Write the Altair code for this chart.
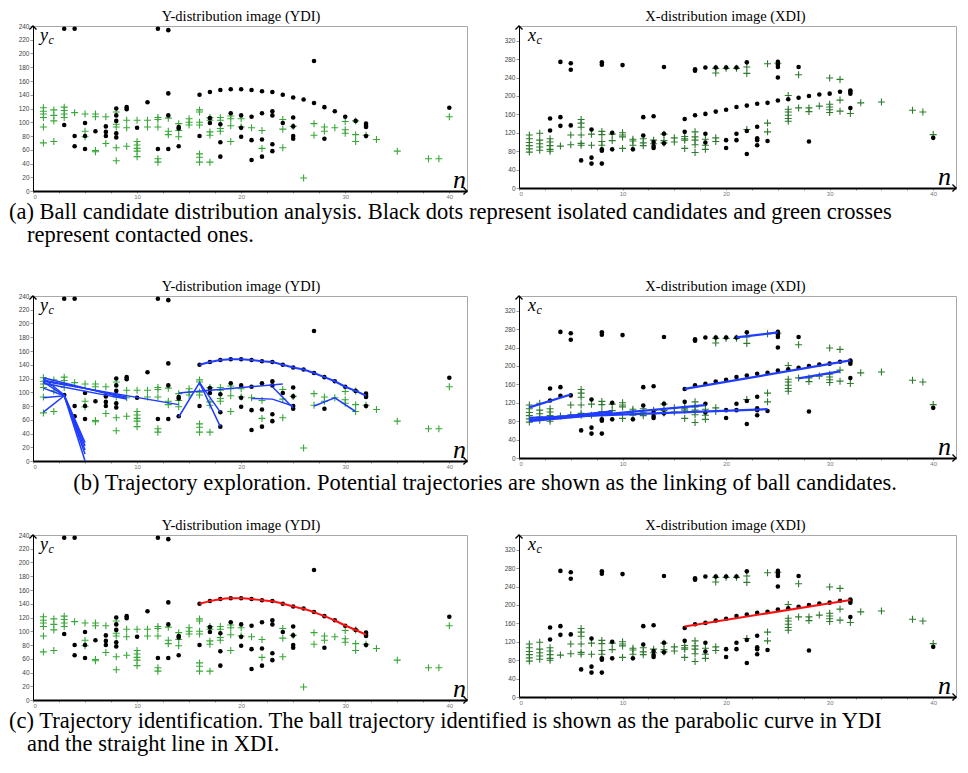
import altair as alt
import pandas as pd

SERIF = "Liberation Serif"
SANS = "Liberation Sans"

# ---------------- data: Y-distribution image (frame index n -> y_c values) ----------------
ydi_dots = {
    3: [236, 96], 4: [236, 80, 65], 5: [99, 80, 61], 6: [87], 7: [94, 86, 80],
    8: [120, 110, 102, 84, 78], 9: [122, 119], 10: [92], 11: [129], 12: [236, 61],
    13: [234, 142, 110, 61], 14: [93, 91, 65], 16: [140, 80], 17: [144, 106, 99],
    18: [147, 97, 71, 50], 19: [148, 113], 20: [148, 110, 92, 79], 21: [147, 108, 74, 45],
    22: [145, 113, 75, 50], 23: [144, 116, 110, 68, 58], 24: [140, 99],
    25: [136, 107, 94, 80, 76], 26: [133], 27: [189, 128], 28: [122, 76], 29: [116],
    30: [108], 31: [102], 32: [98, 95, 93, 80], 40: [121],
}
ydi_crosses = {
    1: [121, 116, 112, 107, 93, 70], 2: [118, 110, 102, 72], 3: [122, 117, 112, 107], 4: [114],
    5: [112, 87, 79], 6: [112, 108, 59, 57], 7: [108, 69], 8: [115, 97, 93, 63, 44],
    9: [103, 92, 65], 10: [103, 72, 67, 62, 58, 50], 11: [103, 93], 12: [107, 104, 93, 47, 42],
    13: [106, 87, 82], 14: [98, 88, 79], 15: [105, 100, 96], 16: [118, 115, 100, 96, 54, 49, 42],
    17: [107, 103, 86, 81, 42], 18: [107, 103, 91, 87], 19: [109, 105, 95, 72], 20: [105, 93],
    21: [92], 22: [88, 62], 24: [104, 90, 63], 25: [94], 26: [19], 27: [98, 81], 28: [93, 87],
    29: [92], 30: [101, 89, 84], 31: [102, 82, 72], 32: [81], 33: [75], 35: [58], 38: [47],
    39: [47], 40: [108],
}

# ---------------- data: X-distribution image (frame index n -> x_c values) ----------------
xdi_dots = {
    3: [151, 125], 4: [274, 154, 135], 5: [271, 257, 136], 6: [60], 7: [127, 66, 53],
    8: [273, 268, 84, 81, 53], 9: [120, 84], 10: [267], 11: [84], 12: [154, 114],
    13: [156, 100, 91, 87], 14: [263, 118, 97], 16: [150, 122], 17: [258, 255, 158],
    18: [262, 161, 118, 99], 19: [262, 166], 20: [262, 170, 104, 87], 21: [262, 176, 118, 104],
    22: [273, 179, 124, 74], 23: [183, 133, 108, 104, 93], 24: [185, 102],
    25: [274, 268, 263, 240, 190], 26: [193], 27: [263, 196], 28: [200, 101], 29: [203],
    30: [205], 31: [209], 32: [212, 209, 205, 174], 40: [109],
}
xdi_crosses = {
    1: [115, 107, 99, 92, 85, 78], 2: [119, 104, 96, 89, 82], 3: [107, 100, 92, 84, 80], 4: [91],
    5: [115, 94], 6: [149, 141, 132, 115, 97, 93], 7: [117, 93], 8: [123, 116, 101, 93],
    9: [117, 103], 10: [120, 115, 111, 86], 11: [106, 102, 93], 12: [107, 98, 92], 13: [104, 96],
    14: [117, 103, 98], 15: [109, 100], 16: [112, 107, 104, 86], 17: [122, 111, 104, 94, 77],
    18: [106, 93, 84], 19: [260, 250, 109, 101], 20: [260], 21: [260], 22: [263, 249, 127],
    24: [270, 141, 122], 25: [271], 26: [201, 171, 165, 158, 151, 145], 27: [246, 174],
    28: [174, 166], 29: [178], 30: [239, 182, 176, 170, 164], 31: [236, 191, 167], 32: [162],
    33: [185], 35: [187], 38: [169], 39: [165], 40: [116],
}

# ---------------- trajectories ----------------
ydi_parabola_n = list(range(16, 33))
ydi_parabola_v = [140, 144, 147, 148, 148, 147, 145, 144, 140, 136, 133, 128, 122, 116, 108, 102, 95]
ydi_candidate_paths = [
    ([1, 3, 5], [120, 96, 27]), ([1, 3, 5], [115, 95, 22]), ([1, 3, 5], [106, 95, 16]),
    ([1, 3, 5], [92, 95, 10]), ([1, 3, 5], [71, 95, 0]),
    ([1, 9], [121, 91]), ([1, 9], [118, 93]), ([1, 9], [113, 90]), ([1, 14], [116, 82]),
    ([14, 16, 18], [64, 114, 50]), ([16, 18], [114, 71]), ([14, 24], [99, 112]),
    ([21, 23, 25], [91, 90, 80]), ([23, 25], [108, 77]), ([27, 29, 31], [80, 92, 72]),
]
xdi_candidate_paths = [
    ([1, 5], [110, 138]), ([1, 24], [87, 106]), ([1, 9], [82, 101]), ([1, 18], [80, 115]),
    ([16, 32], [150, 212]), ([27, 31], [173, 188]), ([21, 25], [262, 273]),
]
xdi_identified_path = ([16, 32], [153, 211])

n_tick_values = [0, 2.5, 5, 7.5, 10, 12.5, 15, 17.5, 20, 22.5, 25, 27.5, 30, 32.5, 35, 37.5, 40]
ydi_y_ticks = [0, 20, 40, 60, 80, 100, 120, 140, 160, 180, 200, 220, 240]
xdi_y_ticks = [0, 40, 80, 120, 160, 200, 240, 280, 320]

YDI_TITLE = "Y-distribution image (YDI)"
XDI_TITLE = "X-distribution image (XDI)"
CAPTION_A = ["(a) Ball candidate distribution analysis. Black dots represent isolated candidates and green crosses",
             "represent contacted ones."]
CAPTION_B = ["(b) Trajectory exploration. Potential trajectories are shown as the linking of ball candidates."]
CAPTION_C = ["(c) Trajectory identification. The ball trajectory identified is shown as the parabolic curve in YDI",
             "and the straight line in XDI."]

BLUE = "#1f3cff"
RED = "#ff1010"
CAP_SIZE = 22.5


def flat(d):
    return pd.DataFrame([{"n": n, "v": v} for n, vals in d.items() for v in vals])


def paths_df(paths):
    rows = []
    for k, (ns, vs) in enumerate(paths):
        for i, (n, v) in enumerate(zip(ns, vs)):
            rows.append({"n": n, "v": v, "path": k, "i": i})
    return pd.DataFrame(rows)


def note(text, x, y, size, style="normal", font=SERIF, align="left"):
    return alt.Chart(pd.DataFrame({"t": [text]})).mark_text(
        font=font, fontSize=size, fontStyle=style, align=align, baseline="alphabetic", color="black"
    ).encode(x=alt.value(x), y=alt.value(y), text="t:N")


def arrow(shape, x, y):
    return alt.Chart(pd.DataFrame({"a": [0]})).mark_point(
        shape=shape, size=50, filled=False, stroke="black", strokeWidth=1.3, opacity=1
    ).encode(x=alt.value(x), y=alt.value(y))


def panel(kind, line_groups=()):
    if kind == "Y":
        w, h, xmax, ymax, yticks = 434, 165, 41.7, 240, ydi_y_ticks
        dots, crosses, green = ydi_dots, ydi_crosses, "#38a838"
        title, tdx, sym, symx, nx = YDI_TITLE, -9, "y", 7, w - 14
    else:
        w, h, xmax, ymax, yticks = 437, 162, 42.2, 352, xdi_y_ticks
        dots, crosses, green = xdi_dots, xdi_crosses, "#2f7a2f"
        title, tdx, sym, symx, nx = XDI_TITLE, -12, "x", 9, w - 18
    xenc = alt.X("n:Q", title=None,
                 scale=alt.Scale(domain=[0, xmax], nice=False, zero=False),
                 axis=alt.Axis(values=n_tick_values,
                               labelExpr="datum.value % 10 == 0 ? format(datum.value, 'd') : ''",
                               grid=False, domainColor="black", domainWidth=2, tickColor="#999",
                               tickSize=2, labelFont=SANS, labelFontSize=6, labelColor="#777",
                               labelPadding=0, labelOverlap=False))
    yenc = alt.Y("v:Q", title=None,
                 scale=alt.Scale(domain=[0, ymax], nice=False),
                 axis=alt.Axis(values=yticks, grid=False, domainColor="black", domainWidth=1,
                               tickColor="#999", tickSize=3, labelFont=SANS, labelFontSize=6.5,
                               labelColor="#444", labelPadding=1, labelOverlap=False))
    layers = [
        alt.Chart(flat(crosses)).mark_point(shape="M-1,0L1,0M0,-1L0,1", size=49, filled=False,
                                            stroke=green, strokeWidth=1.1, opacity=1)
        .encode(x=xenc, y=yenc),
        alt.Chart(flat(dots)).mark_circle(size=21, color="black", opacity=1).encode(x=xenc, y=yenc),
    ]
    for paths, color, width, interp in line_groups:
        layers.append(
            alt.Chart(paths_df(paths)).mark_line(color=color, strokeWidth=width, interpolate=interp)
            .encode(x=xenc, y=yenc, detail="path:N", order="i:Q"))
    layers += [
        arrow("M-1,1L0,0L1,1", 0, 0),
        arrow("M-1,-1L0,0L-1,1", w, h),
        note(title, w / 2 + tdx, -5, 14.5, align="center"),
        note(sym, symx, 15, 18, "italic"),
        note("c", symx + 8.5, 18, 12, "italic"),
        note("n", nx, h - 3, 26, "italic"),
    ]
    return alt.layer(*layers).properties(width=w, height=h)


def caption(lines, h, centered=False):
    layers = []
    for k, text in enumerate(lines):
        if centered:
            layers.append(note(text, 452, 29, CAP_SIZE, align="center"))
        else:
            layers.append(note(text, -24 if k == 0 else -6, 28 + 23 * k, CAP_SIZE))
    return alt.layer(*layers).properties(width=434, height=h,
                                         view=alt.ViewBackground(stroke="transparent"))


def blank(h):
    return alt.Chart(pd.DataFrame({"a": [0]})).mark_point(opacity=0).encode(
        x=alt.value(0), y=alt.value(0)
    ).properties(width=437, height=h, view=alt.ViewBackground(stroke="transparent"))


cells = [
    panel("Y"), panel("X"),
    caption(CAPTION_A, 105), blank(105),
    panel("Y", [(ydi_candidate_paths, BLUE, 1.5, "linear"),
                ([(ydi_parabola_n, ydi_parabola_v)], BLUE, 2, "linear")]),
    panel("X", [(xdi_candidate_paths, BLUE, 2.3, "linear")]),
    caption(CAPTION_B, 74, centered=True), blank(74),
    panel("Y", [([(ydi_parabola_n, ydi_parabola_v)], RED, 2, "basis")]),
    panel("X", [([xdi_identified_path], RED, 2, "linear")]),
    caption(CAPTION_C, 60), blank(60),
]

chart = alt.concat(
    *cells, columns=2, spacing=alt.RowColnumber(row=0, column=52), bounds="flush", align="each"
).properties(
    padding={"left": 0, "top": 0, "right": 0, "bottom": 0}, background="white"
).configure_view(stroke="#a8a8a8", strokeWidth=1)

chart.save("out.html", embed_options={"renderer": "svg", "actions": False})
